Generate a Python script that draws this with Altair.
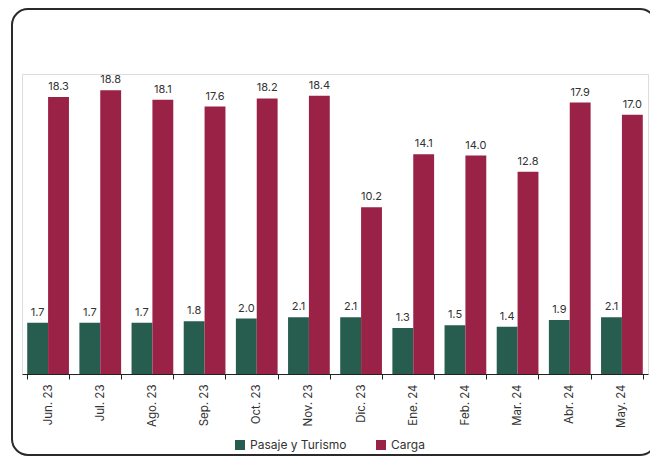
import altair as alt
import pandas as pd

months = ["Jun. 23", "Jul. 23", "Ago. 23", "Sep. 23", "Oct. 23", "Nov. 23",
          "Dic. 23", "Ene. 24", "Feb. 24", "Mar. 24", "Abr. 24", "May. 24"]
pasaje = [1.7, 1.7, 1.7, 1.8, 2.0, 2.1, 2.1, 1.3, 1.5, 1.4, 1.9, 2.1]
carga = [18.3, 18.8, 18.1, 17.6, 18.2, 18.4, 10.2, 14.1, 14.0, 12.8, 17.9, 17.0]
series = ["Pasaje y Turismo", "Carga"]
colors = ["#275D4F", "#9B2247"]

YMIN, YMAX = -2.08, 20.0
FONT = "Inter"

rows = []
for i, m in enumerate(months):
    rows.append({"mes": m, "serie": series[0], "valor": pasaje[i]})
    rows.append({"mes": m, "serie": series[1], "valor": carga[i]})
df = pd.DataFrame(rows)

W, H = 626, 300

x = alt.X("mes:N", sort=months, title=None,
          scale=alt.Scale(paddingInner=0.2, paddingOuter=0.1),
          axis=alt.Axis(labelAngle=-90, labelFont=FONT, labelFontSize=11.5,
                        labelColor="#333333", tickBand="extent", tickSize=5,
                        labelPadding=5, domainColor="#222222", tickColor="#222222",
                        grid=False))
xo = alt.XOffset("serie:N", sort=series, scale=alt.Scale(paddingInner=0))
y = alt.Y("valor:Q", scale=alt.Scale(domain=[YMIN, YMAX], nice=False, zero=False),
          axis=None)
color = alt.Color("serie:N", sort=series,
                  scale=alt.Scale(domain=series, range=colors),
                  legend=alt.Legend(title=None, orient="none", direction="horizontal",
                                    legendX=212, legendY=365, labelFont=FONT,
                                    labelFontSize=12, labelColor="#333333",
                                    symbolType="square", symbolSize=100,
                                    symbolStrokeWidth=0, columnPadding=28,
                                    symbolOpacity=1))

base = alt.Chart(df)
bars = base.mark_bar().encode(x=x, xOffset=xo, y=y, y2=alt.datum(YMIN), color=color)
labels = base.mark_text(baseline="bottom", dy=-5, font=FONT, fontSize=11,
                        color="#333333").encode(
    x=x, xOffset=xo, y=y, text=alt.Text("valor:Q", format=".1f"))

border = alt.Chart(pd.DataFrame({"a": [0]})).mark_rect(
    fillOpacity=0, stroke="#2a2a2a", strokeWidth=2, cornerRadius=16
).encode(x=alt.value(-10), x2=alt.value(634), y=alt.value(-65), y2=alt.value(381))

chart = alt.layer(border, bars, labels).properties(
    width=W, height=H,
    autosize=alt.AutoSizeParams(type="none"),
    padding={"left": 14, "top": 66, "right": 2, "bottom": 84},
).configure_view(stroke=None).configure(background="white")

chart.save("out.html", embed_options={"renderer": "svg", "actions": False})
